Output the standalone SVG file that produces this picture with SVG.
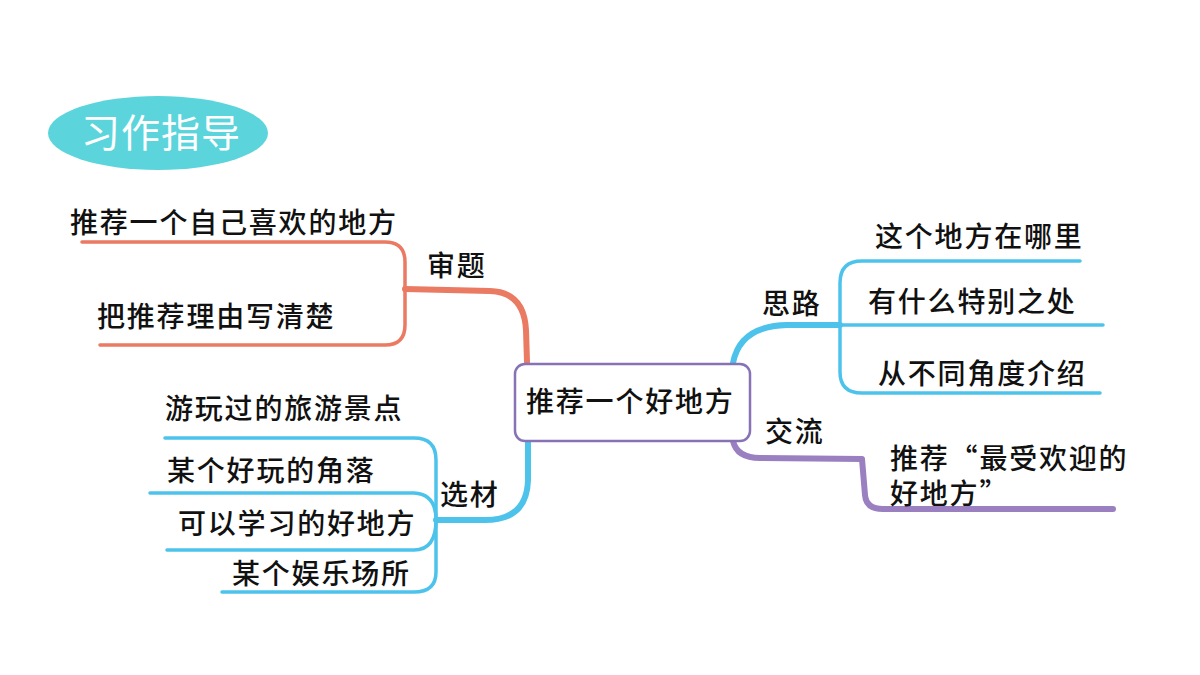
<svg xmlns="http://www.w3.org/2000/svg" width="1200" height="675" viewBox="0 0 1200 675">
<style>
.t{font-family:"Noto Sans CJK SC","Noto Sans",sans-serif;font-size:28px;font-weight:500;fill:#111;letter-spacing:1.8px}
.c{fill:none;stroke-linecap:round;stroke-linejoin:round}
.red{stroke:#ea7a62}
.blue{stroke:#4dc3ec}
.pur{stroke:#9a80c0}
.trunk{stroke-width:6}
.leaf{stroke-width:3.5}
</style>
<rect width="1200" height="675" fill="#fff"/>
<g id="title">
<ellipse cx="158" cy="133" rx="110" ry="37" fill="#5bd5db"/>
<text x="161" y="147" text-anchor="middle" style="font-family:'Noto Sans CJK SC',sans-serif;font-size:39px;fill:#fff;letter-spacing:1px">习作指导</text>
</g>
<g id="connectors">
<path class="c red trunk" d="M527,362 L526,330 Q524,292 490,291 L405,289"/>
<path class="c red leaf" d="M405,289 L405,262 Q405,242 385,242 L82,242"/>
<path class="c red leaf" d="M405,289 L405,325 Q405,345 385,345 L100,345"/>
<path class="c blue trunk" d="M528,441 L528,480 Q527,520 485,520 L436,520"/>
<path class="c blue leaf" d="M436,520 L436,460 Q436,438 414,438 L165,438"/>
<path class="c blue leaf" d="M436,520 Q436,494 414,493 L150,493"/>
<path class="c blue leaf" d="M436,520 Q436,550 414,550 L167,550"/>
<path class="c blue leaf" d="M436,520 L436,572 Q436,592 414,592 L222,592"/>
<path class="c blue trunk" d="M733,363 Q740,326 787,325 L840,325"/>
<path class="c blue leaf" d="M840,325 L840,283 Q840,261 862,261 L1080,261"/>
<path class="c blue leaf" d="M840,325 L1103,325"/>
<path class="c blue leaf" d="M840,325 L840,372 Q840,393 862,393 L1100,393"/>
<path class="c pur trunk" d="M733,441 Q737,458 760,458 L862,459 L865,495 Q866,509 883,509 L1113,509"/>
</g>
<g id="center">
<rect x="515" y="364" width="235" height="77" rx="10" fill="#fff" stroke="#8672b4" stroke-width="2.5"/>
<text class="t" x="526" y="412">推荐一个好地方</text>
</g>
<g id="shenti">
<text class="t" x="427" y="276">审题</text>
<text class="t" x="70" y="233">推荐一个自己喜欢的地方</text>
<text class="t" x="97" y="327">把推荐理由写清楚</text>
</g>
<g id="xuancai">
<text class="t" x="440" y="505">选材</text>
<text class="t" x="165" y="419">游玩过的旅游景点</text>
<text class="t" x="167" y="481">某个好玩的角落</text>
<text class="t" x="178" y="534">可以学习的好地方</text>
<text class="t" x="232" y="584">某个娱乐场所</text>
</g>
<g id="silu">
<text class="t" x="762" y="314">思路</text>
<text class="t" x="875" y="247">这个地方在哪里</text>
<text class="t" x="868" y="312">有什么特别之处</text>
<text class="t" x="878" y="384">从不同角度介绍</text>
</g>
<g id="jiaoliu">
<text class="t" x="765" y="442">交流</text>
<text class="t" x="890" y="469">推荐“最受欢迎的<tspan x="890" dy="35">好地方”</tspan></text>
</g>
</svg>
